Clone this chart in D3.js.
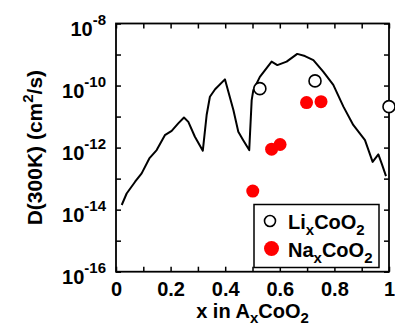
<!DOCTYPE html>
<html>
<head>
<meta charset="utf-8">
<script src="https://cdn.jsdelivr.net/npm/d3@7"></script>
<style>
  body { margin: 0; background: #fff; }
  svg { font-family: Arial, "Liberation Sans", Helvetica, sans-serif; font-weight: bold; }
</style>
</head>
<body>
<svg id="chart" width="395" height="327"></svg>
<script>
// calculated D(300K) curve, x and log10(D)
const curveX = [0.021, 0.039, 0.070, 0.094, 0.122, 0.149, 0.179, 0.204, 0.228, 0.249,
  0.265, 0.289, 0.318, 0.332, 0.344, 0.363, 0.399, 0.430, 0.448, 0.466, 0.488, 0.497,
  0.503, 0.527, 0.570, 0.591, 0.625, 0.664, 0.692, 0.723, 0.759, 0.796, 0.833, 0.869,
  0.912, 0.940, 0.961, 0.973, 0.989]
const curveLogD = [-13.85, -13.48, -13.10, -12.83, -12.35, -12.08, -11.60, -11.46, -11.22, -11.03,
  -11.17, -11.65, -12.10, -10.95, -10.36, -10.12, -9.80, -10.79, -11.49, -11.76, -12.08, -10.47,
  -10.15, -9.72, -9.23, -9.34, -9.23, -8.98, -9.05, -9.18, -9.55, -9.98, -10.68, -11.27,
  -11.76, -12.46, -12.22, -12.51, -12.92]

// experimental points
const liX = [0.527, 0.729, 1.0]
const liLogD = [-10.10, -9.85, -10.68]
const naX = [0.501, 0.570, 0.601, 0.698, 0.751]
const naLogD = [-13.40, -12.05, -11.90, -10.55, -10.52]

const xTicks = [0, 0.1, 0.2, 0.3, 0.4, 0.5, 0.6, 0.7, 0.8, 0.9, 1]
const xTickLabels = ["0", "", "0.2", "", "0.4", "", "0.6", "", "0.8", "", "1"]
const yExponents = [-16, -15, -14, -13, -12, -11, -10, -9, -8]
const yLabelExponents = [-16, -14, -12, -10, -8]

const pLeft = 116, pRight = 389, pTop = 23.5, pBottom = 271.7

const svg = d3.select("#chart")

const x = d3.scaleLinear().domain([0, 1]).range([pLeft, pRight])
const y = d3.scaleLog().domain([1e-16, 1e-8]).range([pBottom, pTop])

const yTickVals = yExponents.map(e => Math.pow(10, e))

// ticks on all four sides, pointing inward
let bottomAxis = svg.append("g").attr("transform", `translate(0,${pBottom})`)
  .call(d3.axisBottom(x).tickValues(xTicks).tickSizeInner(-5).tickSizeOuter(0)
    .tickFormat((d, i) => xTickLabels[i]))
bottomAxis.selectAll("text").attr("y", 24.5).attr("dy", 0)
  .style("font-size", "20px").attr("fill", "#000")

svg.append("g").attr("transform", `translate(0,${pTop})`)
  .call(d3.axisTop(x).tickValues(xTicks).tickSizeInner(-5).tickSizeOuter(0).tickFormat(""))

let leftAxis = svg.append("g").attr("transform", `translate(${pLeft},0)`)
  .call(d3.axisLeft(y).tickValues(yTickVals).tickSizeInner(-5).tickSizeOuter(0).tickFormat(""))

svg.append("g").attr("transform", `translate(${pRight},0)`)
  .call(d3.axisRight(y).tickValues(yTickVals).tickSizeInner(-5).tickSizeOuter(0).tickFormat(""))

svg.selectAll(".domain").remove()
svg.selectAll(".tick line").attr("stroke", "#000").attr("stroke-width", 1.5)

leftAxis.selectAll(".tick").each(function(d) {
  let e = Math.round(Math.log10(d))
  if (yLabelExponents.indexOf(e) < 0) return
  let t = d3.select(this).append("text")
    .attr("x", -10).attr("y", 0)
    .attr("text-anchor", "end").attr("fill", "#000")
  t.append("tspan").attr("dy", 12).style("font-size", "20px").text("10")
  t.append("tspan").attr("dy", -11).style("font-size", "15px").text(e)
})

// frame
svg.append("rect")
  .attr("x", pLeft).attr("y", pTop)
  .attr("width", pRight - pLeft).attr("height", pBottom - pTop)
  .attr("fill", "none").attr("stroke", "#000").attr("stroke-width", 1.8)

// curve
let line = d3.line()
  .x((d, i) => x(curveX[i]))
  .y(d => y(Math.pow(10, d)))

svg.append("path")
  .datum(curveLogD)
  .attr("d", line)
  .attr("fill", "none").attr("stroke", "#000").attr("stroke-width", 2)
  .attr("stroke-linejoin", "round")

// Na points
svg.selectAll(".na").data(naLogD).enter().append("circle")
  .attr("class", "na")
  .attr("cx", (d, i) => x(naX[i]))
  .attr("cy", d => y(Math.pow(10, d)))
  .attr("r", 6.5)
  .attr("fill", "#f00")

// Li points
svg.selectAll(".li").data(liLogD).enter().append("circle")
  .attr("class", "li")
  .attr("cx", (d, i) => x(liX[i]))
  .attr("cy", d => y(Math.pow(10, d)))
  .attr("r", 6)
  .attr("fill", "#fff").attr("stroke", "#000").attr("stroke-width", 1.6)

// legend
let lg = svg.append("g")
lg.append("rect")
  .attr("x", 254).attr("y", 204.5).attr("width", 125).attr("height", 63)
  .attr("fill", "#fff").attr("stroke", "#000").attr("stroke-width", 1.5)
lg.append("circle").attr("cx", 270).attr("cy", 221).attr("r", 5.5)
  .attr("fill", "#fff").attr("stroke", "#000").attr("stroke-width", 1.6)
lg.append("circle").attr("cx", 271.5).attr("cy", 248.5).attr("r", 7.5)
  .attr("fill", "#f00")

function chem(sel, parts, sub) {
  parts.forEach(p => {
    let ts = sel.append("tspan").text(p[0])
    if (p[1]) ts.style("font-size", "15px").attr("dy", sub)
    else if (p[2]) ts.attr("dy", -sub)
  })
}

let t1 = lg.append("text").attr("x", 288).attr("y", 228.5).style("font-size", "20px")
chem(t1, [["Li"], ["x", 1], ["CoO", 0, 1], ["2", 1]], 6)
let t2 = lg.append("text").attr("x", 288).attr("y", 256.5).style("font-size", "20px")
chem(t2, [["Na"], ["x", 1], ["CoO", 0, 1], ["2", 1]], 6)

// axis titles
let xt = svg.append("text").attr("x", (pLeft + pRight) / 2).attr("y", 318)
  .attr("text-anchor", "middle").style("font-size", "20px")
chem(xt, [["x in A"], ["x", 1], ["CoO", 0, 1], ["2", 1]], 5)

let yt = svg.append("text")
  .attr("transform", `translate(41.5,${(pTop + pBottom) / 2}) rotate(-90)`)
  .attr("text-anchor", "middle").style("font-size", "21px")
yt.append("tspan").text("D(300K) (cm")
yt.append("tspan").attr("dy", -9).style("font-size", "15px").text("2")
yt.append("tspan").attr("dy", 9).text("/s)")
</script>
</body>
</html>
